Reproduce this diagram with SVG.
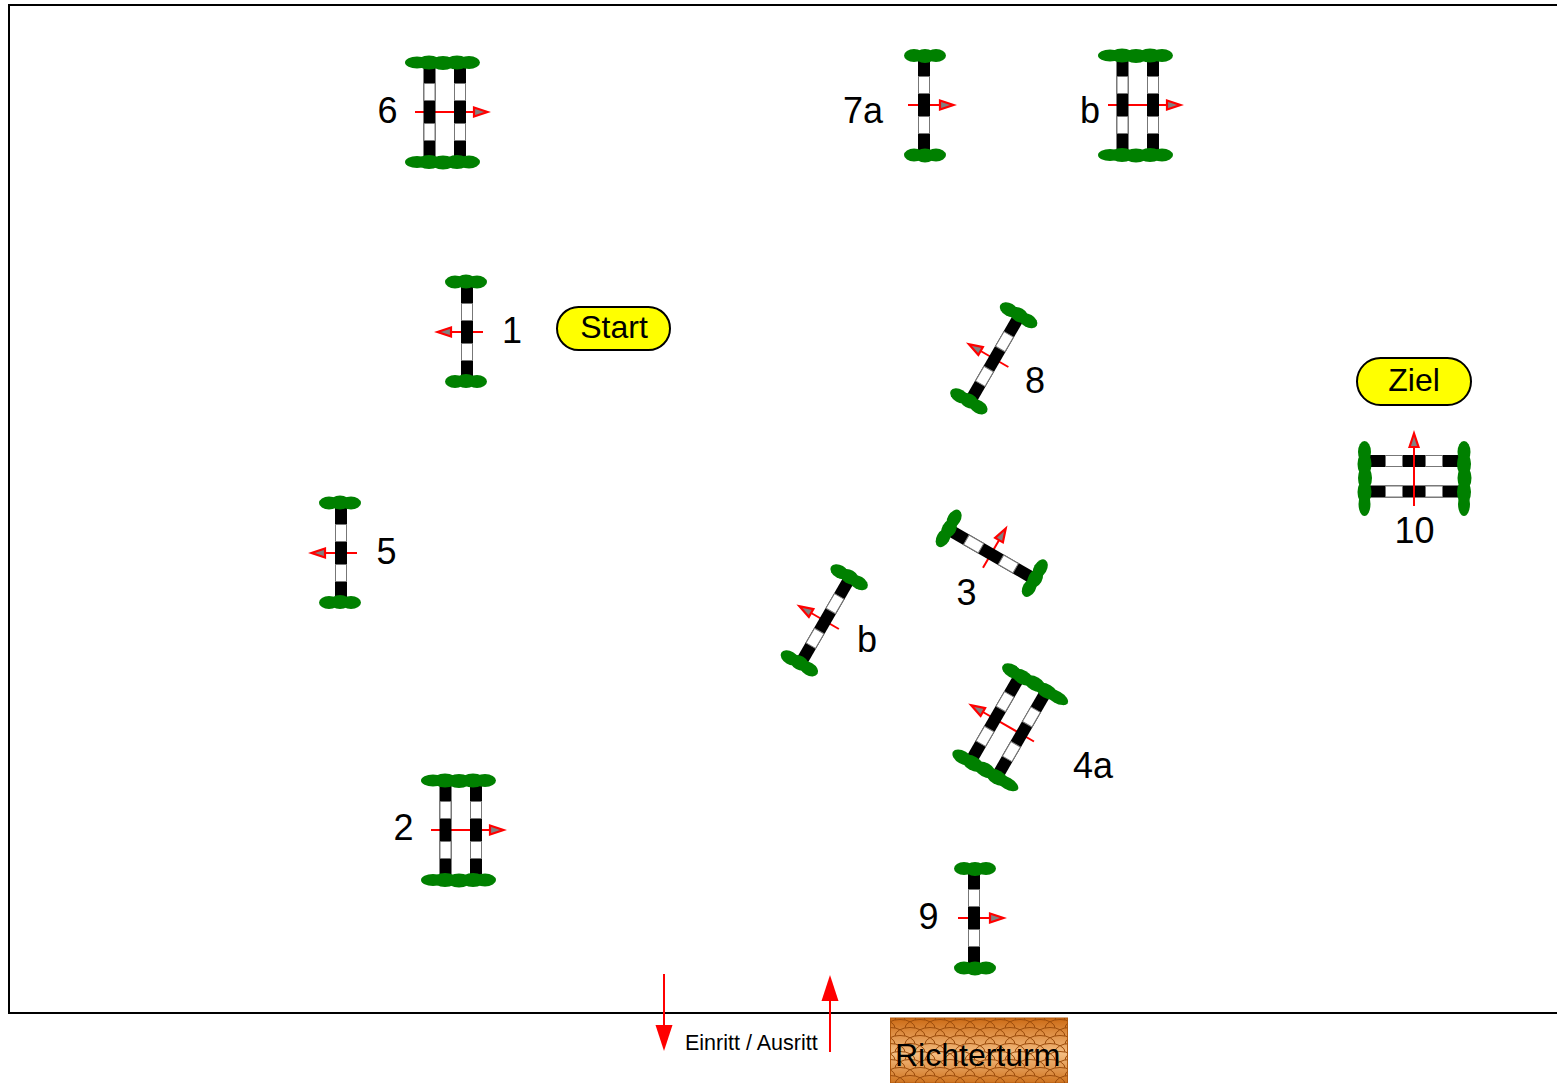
<svg xmlns="http://www.w3.org/2000/svg" width="1557" height="1083" viewBox="0 0 1557 1083">
<style>
text{font-family:"Liberation Sans",Arial,sans-serif;fill:#000}
.n{font-size:36px}
.p{font-size:32px;text-anchor:middle}
.pill{fill:#ff0;stroke:#000;stroke-width:2}
.g{fill:#008000}
.dir{stroke:#f00;stroke-width:2;fill:none}
.head{fill:#808080;stroke:#f00;stroke-width:2.200}
.wh{fill:#fff;stroke:#777;stroke-width:1}
</style>
<defs>
<linearGradient id="wood" x1="0" y1="0" x2="0" y2="1"><stop offset="0" stop-color="#cc6a14"/><stop offset=".55" stop-color="#f4bc80"/><stop offset="1" stop-color="#cf7420"/></linearGradient>
<pattern id="scale" width="20" height="16" patternUnits="userSpaceOnUse" x="890" y="1018">
<path d="M-5 10A15 8.500 0 0 1 25 10M-25 10A15 8.500 0 0 1 5 10M15 10A15 8.500 0 0 1 45 10M5 18A15 8.500 0 0 1 35 18M-15 18A15 8.500 0 0 1 15 18M5 2A15 8.500 0 0 1 35 2M-15 2A15 8.500 0 0 1 15 2" fill="none" stroke="#9a4a0a" stroke-width="1"/>
</pattern>
<g id="rail">
<rect x="-6" y="-47" width="12" height="93" fill="#000"/>
<rect class="wh" x="-5.500" y="-28.500" width="11" height="17"/>
<rect class="wh" x="-5.500" y="11.500" width="11" height="17"/>
</g>
<g id="sh1" class="g"><ellipse cx="-10" cy="0" rx="10" ry="6.500"/><ellipse cx="1" cy="0.500" rx="10" ry="7"/><ellipse cx="12" cy="0" rx="10" ry="6.500"/></g>
<g id="sh2" class="g"><ellipse cx="-28" cy="0" rx="12" ry="6"/><ellipse cx="-16" cy="0" rx="12" ry="7"/><ellipse cx="-2" cy="0.500" rx="12" ry="7"/><ellipse cx="12" cy="0" rx="12" ry="7"/><ellipse cx="24" cy="0" rx="11" ry="6.500"/></g>
<g id="arr"><path class="dir" d="M-16 0H18"/></g>
<path id="arrh" class="head" d="M16 -4.500L29.500 0L16 4.500Z"/>
<g id="arr2"><path class="dir" d="M-30 0H30"/></g>
<path id="arr2h" class="head" d="M29 -4.500L42.500 0L29 4.500Z"/>
<g id="single"><use href="#arr"/><use href="#rail"/><use href="#sh1" y="-49.500"/><use href="#sh1" y="50"/><use href="#arrh"/></g>
<g id="double"><use href="#arr2"/><use href="#rail" x="-15.500"/><use href="#rail" x="15"/><use href="#sh2" y="-49.500"/><use href="#sh2" y="50"/><use href="#arr2h"/></g>
</defs>
<rect width="1557" height="1083" fill="#fff"/>
<path id="frame" d="M1557 5H9V1013H1557" fill="none" stroke="#000" stroke-width="2"/>
<g id="jump6"><use href="#double" transform="translate(445 112)"/><text class="n" x="377.500" y="122.500">6</text></g>
<g id="jump7a"><use href="#single" transform="translate(924 105)"/><text class="n" x="843" y="122.500">7a</text></g>
<g id="jump7b"><use href="#double" transform="translate(1138 105)"/><text class="n" x="1080" y="122.500">b</text></g>
<g id="jump1"><use href="#single" transform="translate(467 332) rotate(180)"/><text class="n" x="502" y="342.500">1</text></g>
<g id="start"><rect class="pill" x="557" y="307" width="113" height="43" rx="21.500"/><text class="p" x="614" y="338">Start</text></g>
<g id="jump8"><use href="#single" transform="translate(994.500 359) rotate(210)"/><text class="n" x="1025" y="393">8</text></g>
<g id="ziel"><rect class="pill" x="1357" y="358" width="114" height="47" rx="23.500"/><text class="p" x="1414" y="391">Ziel</text></g>
<g id="jump10"><use href="#double" transform="translate(1414 476) rotate(-90)"/><use href="#arr2" transform="translate(1414 476) rotate(-90)"/><text class="n" x="1394.500" y="543">10</text></g>
<g id="jump5"><use href="#single" transform="translate(341 553) rotate(180)"/><text class="n" x="376.500" y="563.500">5</text></g>
<g id="jump3"><use href="#single" transform="translate(991 554) rotate(-60)"/><text class="n" x="956.500" y="604.500">3</text></g>
<g id="jump4b"><use href="#single" transform="translate(825 621) rotate(210)"/><text class="n" x="857" y="651.500">b</text></g>
<g id="jump4a"><use href="#double" transform="translate(1008 726.500) rotate(210)"/><text class="n" x="1073" y="777.500">4a</text></g>
<g id="jump2"><use href="#double" transform="translate(461 830)"/><text class="n" x="393.500" y="840">2</text></g>
<g id="jump9"><use href="#single" transform="translate(974 918)"/><text class="n" x="918.500" y="928.500">9</text></g>
<g id="connectors">
<path d="M664 974V1030" stroke="#f00" stroke-width="2"/><path d="M655.500 1025H672.500L664 1051Z" fill="#f00"/>
<path d="M830 1052V998" stroke="#f00" stroke-width="2"/><path d="M821.500 1001H838.500L830 975Z" fill="#f00"/>
</g>
<text x="685" y="1050" font-size="21.500">Einritt / Ausritt</text>
<g id="richterturm"><rect x="890.500" y="1018" width="177" height="65" fill="url(#wood)" stroke="#b05a10"/><rect x="890.500" y="1018" width="177" height="65" fill="url(#scale)"/><text x="895" y="1066" font-size="32">Richterturm</text></g>
</svg>
